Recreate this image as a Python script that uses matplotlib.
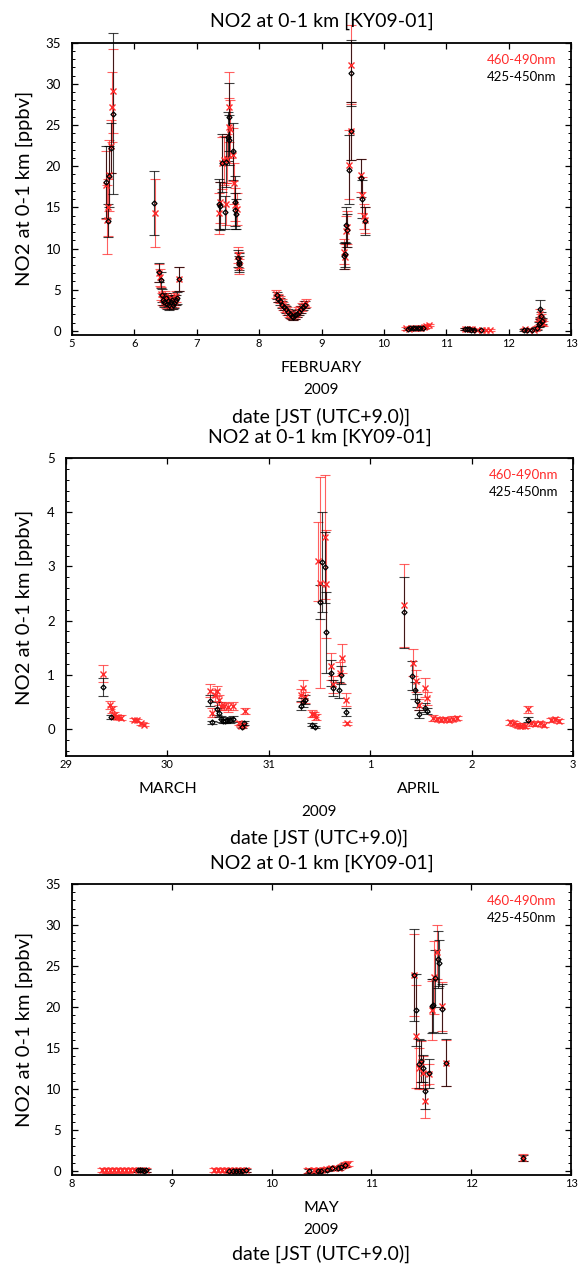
import matplotlib
matplotlib.use("Agg")
import matplotlib.pyplot as plt
from matplotlib.ticker import MultipleLocator, FixedLocator

plt.rcParams['font.family'] = ['Lato', 'DejaVu Sans']

# ---------------- data ----------------
# Panel 1: February (day of month)
feb_red_t = [5.54, 5.56, 5.58, 5.60, 5.62, 5.64, 5.66,
             6.33,
             6.39, 6.41, 6.43, 6.45, 6.47, 6.49, 6.51, 6.53, 6.55, 6.57, 6.59, 6.61, 6.63, 6.65, 6.67, 6.71,
             7.36, 7.37, 7.40, 7.43, 7.47, 7.48, 7.51, 7.52, 7.53, 7.58, 7.59, 7.62, 7.64, 7.66, 7.67, 7.68,
             8.27, 8.30, 8.33, 8.36, 8.39, 8.42, 8.45, 8.48, 8.51, 8.54, 8.57, 8.60, 8.63, 8.66, 8.69, 8.72, 8.75,
             9.36, 9.38, 9.40, 9.41, 9.44, 9.47, 9.48, 9.63, 9.65, 9.68, 9.70,
             10.35, 10.40, 10.44, 10.48, 10.52, 10.56, 10.60, 10.64, 10.68, 10.72,
             11.30, 11.34, 11.38, 11.42, 11.50, 11.58, 11.64, 11.70,
             12.26, 12.32, 12.40, 12.46, 12.48, 12.50, 12.51, 12.52, 12.53, 12.55]
feb_red_v = [17.7, 13.5, 15.0, 18.9, 22.4, 27.2, 29.1,
             14.3,
             7.0, 6.5, 4.5, 3.9, 3.6, 4.2, 3.4, 3.8, 3.2, 3.6, 4.0, 3.3, 3.5, 3.8, 4.2, 6.3,
             14.3, 15.6, 20.4, 20.7, 15.4, 20.9, 24.8, 27.2, 24.5, 21.4, 17.9, 15.3, 14.8, 9.2, 8.6, 7.8,
             4.5, 4.0, 3.8, 3.4, 3.0, 2.7, 2.4, 2.1, 1.9, 1.8, 1.9, 2.1, 2.4, 2.6, 2.9, 3.2, 3.4,
             9.6, 9.0, 12.1, 12.6, 20.2, 24.3, 32.3, 18.9, 16.5, 13.9, 13.5,
             0.30, 0.25, 0.30, 0.35, 0.30, 0.30, 0.40, 0.45, 0.55, 0.70,
             0.25, 0.20, 0.20, 0.20, 0.15, 0.15, 0.10, 0.15,
             0.20, 0.15, 0.10, 0.40, 0.90, 1.20, 2.10, 1.60, 1.10, 0.90]
feb_red_e = [4.1, 4.2, 3.5, 4.3, 3.2, 4.2, 5.1,
             4.1,
             1.1, 1.0, 0.8, 0.7, 0.6, 0.6, 0.6, 0.6, 0.6, 0.6, 0.6, 0.6, 0.6, 0.6, 0.7, 1.5,
             2.5, 2.5, 3.2, 3.0, 2.5, 3.0, 3.5, 4.3, 3.5, 3.2, 2.5, 2.0, 2.0, 1.0, 1.0, 0.9,
             0.45, 0.45, 0.45, 0.45, 0.45, 0.45, 0.45, 0.45, 0.45, 0.45, 0.45, 0.45, 0.45, 0.45, 0.45, 0.45, 0.45,
             1.5, 1.5, 1.9, 2.0, 4.2, 3.5, 4.8, 2.0, 2.2, 1.5, 1.6,
             0.15, 0.15, 0.15, 0.15, 0.15, 0.15, 0.15, 0.15, 0.15, 0.15,
             0.12, 0.12, 0.12, 0.12, 0.12, 0.12, 0.12, 0.12,
             0.15, 0.15, 0.15, 0.20, 0.30, 0.40, 0.60, 0.50, 0.40, 0.30]

feb_blk_t = [5.55, 5.57, 5.60, 5.62, 5.66,
             6.32,
             6.40, 6.42, 6.44, 6.46, 6.48, 6.50, 6.52, 6.54, 6.56, 6.58, 6.60, 6.62, 6.64, 6.66, 6.68, 6.71,
             7.36, 7.38, 7.40, 7.46, 7.47, 7.50, 7.51, 7.52, 7.58, 7.61, 7.62, 7.63, 7.66, 7.67, 7.68,
             8.28, 8.31, 8.34, 8.37, 8.40, 8.43, 8.46, 8.49, 8.52, 8.55, 8.58, 8.61, 8.64, 8.67, 8.70, 8.73,
             9.36, 9.37, 9.40, 9.41, 9.44, 9.47, 9.48, 9.63, 9.65, 9.69,
             10.38, 10.42, 10.46, 10.50, 10.54, 10.58, 10.62,
             11.30, 11.33, 11.36, 11.40, 11.44, 11.55,
             12.25, 12.30, 12.38, 12.46, 12.48, 12.50, 12.51, 12.52, 12.54]
feb_blk_v = [18.1, 13.4, 18.8, 22.2, 26.4,
             15.5,
             7.1, 6.2, 4.3, 3.8, 3.5, 4.0, 3.3, 3.6, 3.1, 3.5, 3.8, 3.2, 3.4, 3.7, 4.0, 6.3,
             15.4, 15.2, 20.4, 14.4, 20.5, 23.6, 26.0, 23.2, 21.8, 15.6, 14.7, 14.2, 8.8, 8.4, 8.1,
             4.3, 3.9, 3.6, 3.2, 2.9, 2.6, 2.3, 2.0, 1.8, 1.7, 1.9, 2.1, 2.3, 2.6, 2.9, 3.2,
             9.1, 9.3, 12.9, 12.2, 19.6, 24.3, 31.3, 18.6, 16.0, 13.3,
             0.25, 0.30, 0.30, 0.35, 0.30, 0.35, 0.40,
             0.20, 0.20, 0.20, 0.15, 0.15, 0.10,
             0.15, 0.10, 0.05, 0.30, 0.80, 1.00, 2.70, 1.80, 1.20]
feb_blk_e = [4.4, 2.0, 3.7, 3.0, 9.8,
             3.9,
             1.2, 1.0, 0.8, 0.7, 0.6, 0.6, 0.6, 0.6, 0.6, 0.6, 0.6, 0.6, 0.6, 0.6, 0.7, 1.5,
             3.0, 2.9, 3.5, 2.0, 3.0, 3.0, 4.1, 3.0, 3.5, 3.2, 2.0, 1.8, 1.0, 1.0, 1.0,
             0.4, 0.4, 0.4, 0.4, 0.4, 0.4, 0.4, 0.4, 0.4, 0.4, 0.4, 0.4, 0.4, 0.4, 0.4, 0.4,
             1.6, 1.5, 2.2, 2.0, 4.2, 3.5, 4.0, 2.3, 2.3, 1.7,
             0.12, 0.12, 0.12, 0.12, 0.12, 0.12, 0.12,
             0.10, 0.10, 0.10, 0.10, 0.10, 0.10,
             0.12, 0.12, 0.12, 0.20, 0.30, 0.40, 1.00, 0.50, 0.40]

# Panel 2: March 29 - April 3 (32 = April 1)
mar_red_t = [29.36, 29.43, 29.45, 29.47, 29.49, 29.51, 29.54, 29.67, 29.70, 29.74, 29.77,
             30.42, 30.44, 30.47, 30.49, 30.51, 30.53, 30.56, 30.60, 30.65, 30.71, 30.73, 30.75, 30.77,
             31.32, 31.34, 31.36, 31.43, 31.45, 31.47, 31.49, 31.50, 31.55, 31.56, 31.61, 31.63, 31.70, 31.72, 31.76, 31.77,
             32.33, 32.42, 32.45, 32.48, 32.54, 32.56, 32.62, 32.66, 32.70, 32.74, 32.78, 32.82, 32.86,
             33.38, 33.42, 33.45, 33.48, 33.50, 33.53, 33.56, 33.59, 33.63, 33.67, 33.71, 33.78, 33.82, 33.86]
mar_red_v = [1.02, 0.44, 0.36, 0.26, 0.22, 0.22, 0.21, 0.17, 0.16, 0.10, 0.08,
             0.70, 0.30, 0.62, 0.70, 0.54, 0.42, 0.42, 0.40, 0.42, 0.11, 0.06, 0.08, 0.33,
             0.62, 0.76, 0.58, 0.28, 0.27, 0.22, 3.09, 2.70, 3.54, 2.68, 1.16, 0.82, 1.04, 1.30, 0.54, 0.10,
             2.28, 1.22, 0.88, 0.45, 0.76, 0.57, 0.20, 0.18, 0.17, 0.18, 0.17, 0.19, 0.20,
             0.12, 0.10, 0.07, 0.06, 0.05, 0.06, 0.36, 0.10, 0.09, 0.10, 0.08, 0.16, 0.18, 0.15]
mar_red_e = [0.16, 0.08, 0.07, 0.05, 0.04, 0.04, 0.04, 0.03, 0.03, 0.03, 0.03,
             0.12, 0.08, 0.10, 0.10, 0.09, 0.08, 0.08, 0.08, 0.08, 0.04, 0.03, 0.03, 0.06,
             0.12, 0.14, 0.10, 0.06, 0.05, 0.05, 0.73, 1.95, 1.15, 1.00, 0.25, 0.15, 0.20, 0.27, 0.12, 0.03,
             0.77, 0.25, 0.20, 0.10, 0.18, 0.12, 0.05, 0.04, 0.04, 0.04, 0.04, 0.04, 0.04,
             0.05, 0.04, 0.04, 0.04, 0.03, 0.04, 0.06, 0.04, 0.04, 0.04, 0.04, 0.04, 0.04, 0.04]

mar_blk_t = [29.36, 29.44,
             30.42, 30.44, 30.49, 30.51, 30.53, 30.55, 30.57, 30.59, 30.62, 30.65, 30.74, 30.76,
             31.32, 31.34, 31.36, 31.43, 31.46, 31.50, 31.52, 31.55, 31.56, 31.61, 31.63, 31.69, 31.71, 31.76,
             32.33, 32.41, 32.44, 32.46, 32.48, 32.54, 32.56,
             33.56]
mar_blk_v = [0.77, 0.22,
             0.52, 0.12, 0.37, 0.30, 0.18, 0.15, 0.15, 0.17, 0.16, 0.18, 0.04, 0.11,
             0.43, 0.49, 0.54, 0.08, 0.04, 2.34, 3.08, 2.98, 1.78, 1.04, 0.76, 0.72, 0.99, 0.31,
             2.15, 0.98, 0.71, 0.52, 0.27, 0.39, 0.33,
             0.17]
mar_blk_e = [0.17, 0.04,
             0.10, 0.03, 0.12, 0.08, 0.05, 0.04, 0.04, 0.05, 0.05, 0.05, 0.03, 0.04,
             0.08, 0.08, 0.08, 0.03, 0.02, 0.32, 0.92, 0.66, 0.74, 0.24, 0.15, 0.15, 0.17, 0.08,
             0.65, 0.27, 0.16, 0.12, 0.07, 0.08, 0.06,
             0.05]
mar_ticks = [29, 30, 31, 32, 33, 34]
mar_ticklabels = ['29', '30', '31', '1', '2', '3']

# Panel 3: May
may_red_t = [8.30, 8.34, 8.38, 8.42, 8.46, 8.50, 8.54, 8.58, 8.62, 8.66, 8.70, 8.74,
             9.42, 9.46, 9.50, 9.54, 9.58, 9.62, 9.66, 9.70, 9.74,
             10.36, 10.42, 10.46, 10.50, 10.55, 10.60, 10.64, 10.68, 10.71, 10.74, 10.77,
             11.43, 11.45, 11.48, 11.50, 11.52, 11.54, 11.58, 11.61, 11.63, 11.66, 11.71, 11.75,
             12.52]
may_red_v = [0.10, 0.05, 0.05, 0.08, 0.05, 0.06, 0.05, 0.07, 0.10, 0.10, 0.12, 0.10,
             0.08, 0.10, 0.06, 0.07, 0.05, 0.07, 0.08, 0.06, 0.10,
             0.05, 0.10, 0.05, 0.10, 0.25, 0.30, 0.30, 0.35, 0.60, 0.75, 0.85,
             23.9, 16.4, 12.5, 13.3, 12.0, 8.5, 11.8, 19.6, 23.6, 26.7, 20.1, 13.2,
             1.6]
may_red_e = [0.25, 0.25, 0.25, 0.25, 0.25, 0.25, 0.25, 0.25, 0.25, 0.25, 0.25, 0.25,
             0.25, 0.25, 0.25, 0.25, 0.25, 0.25, 0.25, 0.25, 0.25,
             0.25, 0.25, 0.25, 0.25, 0.25, 0.25, 0.25, 0.25, 0.30, 0.30, 0.30,
             5.0, 6.3, 2.5, 2.5, 2.0, 2.0, 1.2, 3.6, 4.5, 3.3, 3.0, 2.8,
             0.45]
may_blk_t = [8.66, 8.68, 8.70, 8.72, 8.74,
             9.57, 9.61, 9.64, 9.67, 9.70, 9.74,
             10.37, 10.46, 10.49, 10.56, 10.61, 10.67, 10.70, 10.74,
             11.43, 11.45, 11.48, 11.50, 11.52, 11.54, 11.58, 11.61, 11.62, 11.64, 11.67, 11.68, 11.71, 11.75,
             12.52]
may_blk_v = [0.05, 0.06, 0.05, 0.04, 0.05,
             0.02, 0.04, 0.03, 0.04, 0.03, 0.05,
             0.00, 0.00, 0.02, 0.15, 0.30, 0.30, 0.50, 0.70,
             23.9, 19.6, 13.1, 13.4, 12.5, 9.8, 11.9, 20.1, 20.2, 23.5, 25.8, 25.4, 19.8, 13.2,
             1.6]
may_blk_e = [0.20, 0.20, 0.20, 0.20, 0.20,
             0.20, 0.20, 0.20, 0.20, 0.20, 0.20,
             0.20, 0.20, 0.20, 0.20, 0.20, 0.20, 0.20, 0.25,
             5.6, 4.4, 3.0, 2.6, 1.6, 2.3, 1.8, 3.3, 3.2, 3.5, 3.5, 2.8, 3.0, 2.9,
             0.40]

title_text = "NO2 at 0-1 km [KY09-01]"
ylabel_text = "NO2 at 0-1 km [ppbv]"
xlabel_text = "date [JST (UTC+9.0)]"
year_text = "2009"
legend_red = "460-490nm"
legend_blk = "425-450nm"

RED = '#ff2b2b'

# ---------------- layout ----------------
W, H = 579, 1265
fig = plt.figure(figsize=(W / 100, H / 100), dpi=100)


def fx(px):
    return px / W


def fy(py):
    return 1 - py / H


def make_axes(l, r, t, b):
    return fig.add_axes([fx(l), fy(b), fx(r) - fx(l), (b - t) / H])


def draw(ax, rt, rv, re, bt, bv, be):
    ax.errorbar(rt, rv, yerr=re, fmt='none', ecolor=RED, elinewidth=0.8,
                capsize=3.5, capthick=0.8, alpha=0.75, clip_on=False, zorder=2)
    ax.errorbar(bt, bv, yerr=be, fmt='none', ecolor='black', elinewidth=0.8,
                capsize=3.5, capthick=0.8, alpha=0.75, clip_on=False, zorder=3)
    ax.plot(rt, rv, linestyle='none', marker='x', ms=4.2, mew=1.0, color=RED, zorder=4)
    ax.plot(bt, bv, linestyle='none', marker='D', ms=2.6, mew=0.9, mfc='none',
            mec='black', zorder=5)


def style(ax, ymaj, ymin):
    for s in ax.spines.values():
        s.set_linewidth(1.3)
    ax.yaxis.set_major_locator(MultipleLocator(ymaj))
    ax.yaxis.set_minor_locator(MultipleLocator(ymin))
    ax.tick_params(axis='both', which='both', direction='in', top=True, right=True)
    ax.tick_params(axis='both', which='major', length=4, width=0.9)
    ax.tick_params(axis='y', which='minor', length=2.2, width=0.7)
    ax.tick_params(axis='x', which='minor', length=0)
    ax.tick_params(axis='y', labelsize=9.5, pad=8)
    ax.tick_params(axis='x', labelsize=8, pad=2)
    ax.annotate(legend_red, xy=(1, 1), xycoords='axes fraction', xytext=(-15, -17),
                textcoords='offset pixels', ha='right', va='center', color=RED, fontsize=9.5)
    ax.annotate(legend_blk, xy=(1, 1), xycoords='axes fraction', xytext=(-15, -34),
                textcoords='offset pixels', ha='right', va='center', color='black', fontsize=9.5)


def texts(l, r, t, b, month_items, date_off=81.5):
    cx = (l + r) / 2
    fig.text(fx(cx), fy(t - 21), title_text, ha='center', va='center', fontsize=14)
    fig.text(fx(24), fy((t + b) / 2), ylabel_text, ha='center', va='center',
             rotation=90, fontsize=14.5)
    for (mx, mtxt) in month_items:
        fig.text(fx(mx), fy(b + 33), mtxt, ha='center', va='center', fontsize=11.5)
    fig.text(fx(cx), fy(b + 55.5), year_text, ha='center', va='center', fontsize=11)
    fig.text(fx(cx), fy(b + date_off), xlabel_text, ha='center', va='center', fontsize=14)


# Panel 1
L1, R1, T1, B1 = 72, 571, 42.7, 335
ax1 = make_axes(L1, R1, T1, B1)
draw(ax1, feb_red_t, feb_red_v, feb_red_e, feb_blk_t, feb_blk_v, feb_blk_e)
ax1.set_xlim(5, 13)
ax1.set_ylim(-0.5, 35)
ax1.xaxis.set_major_locator(MultipleLocator(1))
style(ax1, 5, 1)
texts(L1, R1, T1, B1, [((L1 + R1) / 2, 'FEBRUARY')])

# Panel 2
L2, R2, T2, B2 = 66, 573, 458, 756
ax2 = make_axes(L2, R2, T2, B2)
draw(ax2, mar_red_t, mar_red_v, mar_red_e, mar_blk_t, mar_blk_v, mar_blk_e)
ax2.set_xlim(29, 34)
ax2.set_ylim(-0.5, 5)
ax2.xaxis.set_major_locator(FixedLocator(mar_ticks))
ax2.set_xticklabels(mar_ticklabels)
style(ax2, 1, 0.2)
px_per_day = (R2 - L2) / 5
texts(L2, R2, T2, B2, [(L2 + (30.0 - 29) * px_per_day, 'MARCH'),
                       (L2 + (32.48 - 29) * px_per_day, 'APRIL')])

# Panel 3
L3, R3, T3, B3 = 72, 571, 884, 1175
ax3 = make_axes(L3, R3, T3, B3)
draw(ax3, may_red_t, may_red_v, may_red_e, may_blk_t, may_blk_v, may_blk_e)
ax3.set_xlim(8, 13)
ax3.set_ylim(-0.5, 35)
ax3.xaxis.set_major_locator(MultipleLocator(1))
style(ax3, 5, 1)
texts(L3, R3, T3, B3, [((L3 + R3) / 2, 'MAY')], date_off=79)

fig.savefig('out.png', dpi=100)
